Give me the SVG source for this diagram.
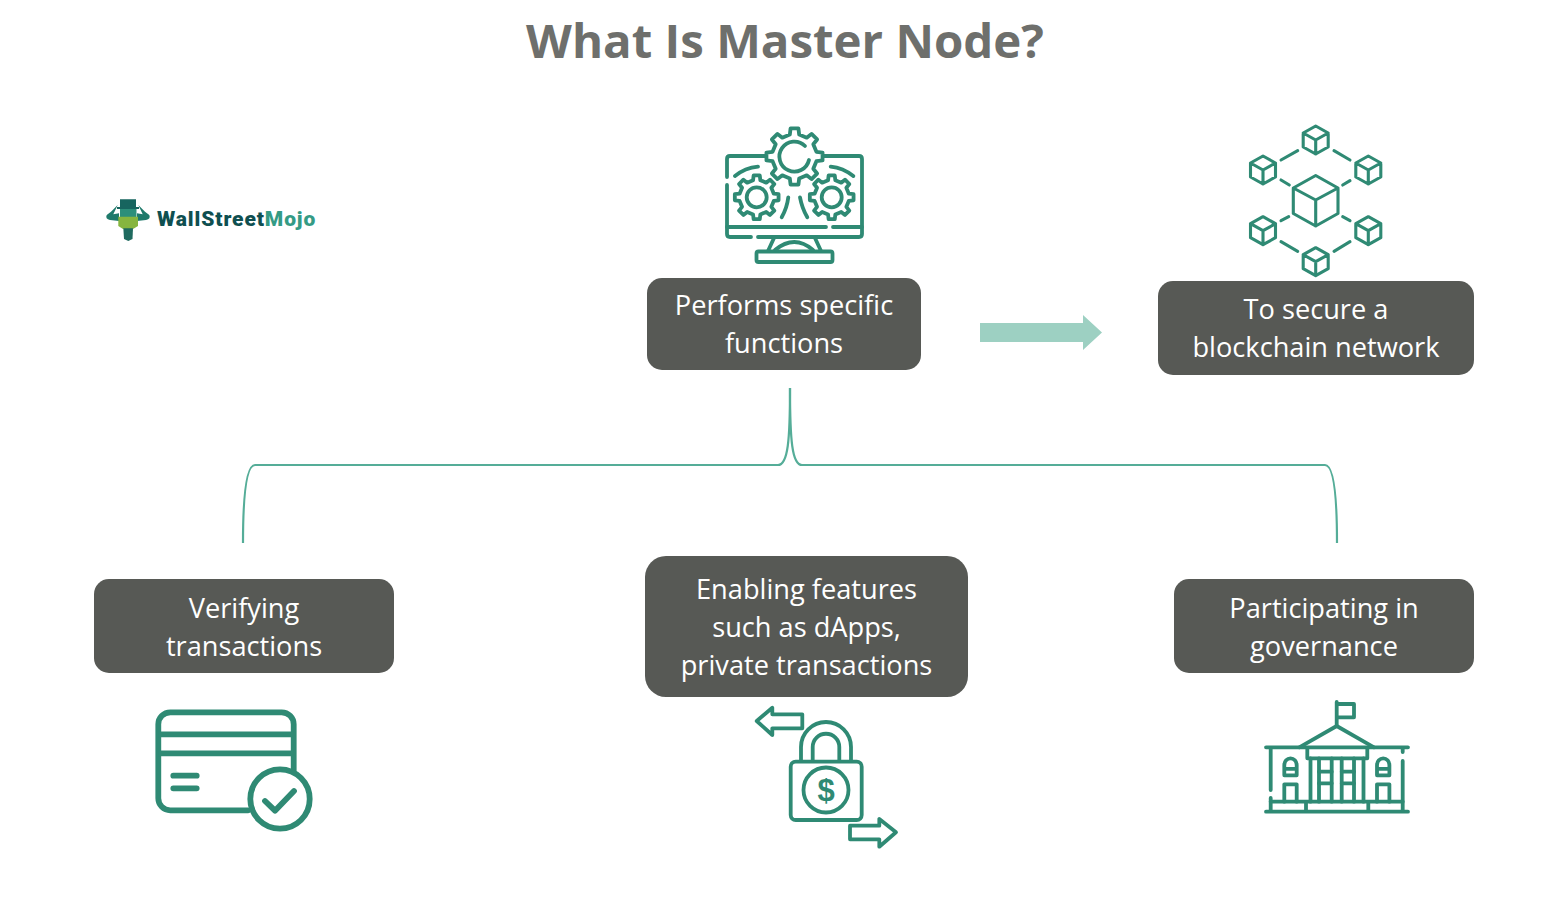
<svg xmlns="http://www.w3.org/2000/svg" width="1568" height="904" viewBox="0 0 1568 904">
<style>
.box{fill:#575955}
.t{font-family:"Open Sans","Noto Sans","Liberation Sans",sans-serif;font-size:27.200px;fill:#fff;text-anchor:middle}
.title{font-family:"Open Sans","Noto Sans","Liberation Sans",sans-serif;font-size:47.400px;font-weight:700;fill:#6e6f6c;text-anchor:middle}
.i{fill:none;stroke:#2f8a74;stroke-width:3.800;stroke-linecap:round;stroke-linejoin:round}
.w{fill:#fff}
.card{stroke-width:5.800}
.conn{fill:none;stroke:#55ad98;stroke-width:2.200}
</style>
<defs>
<path id="gear" vector-effect="non-scaling-stroke" d="M-3.34,-23.77 L3.34,-23.77 L3.95,-18.58 L10.35,-15.93 L14.44,-19.17 L19.17,-14.44 L15.93,-10.35 L18.58,-3.95 L23.77,-3.34 L23.77,3.34 L18.58,3.95 L15.93,10.35 L19.17,14.44 L14.44,19.17 L10.35,15.93 L3.95,18.58 L3.34,23.77 L-3.34,23.77 L-3.95,18.58 L-10.35,15.93 L-14.44,19.17 L-19.17,14.44 L-15.93,10.35 L-18.58,3.95 L-23.77,3.34 L-23.77,-3.34 L-18.58,-3.95 L-15.93,-10.35 L-19.17,-14.44 L-14.44,-19.17 L-10.35,-15.93 L-3.95,-18.58 Z"/>
<path id="cube" d="M0,-14 L12.5,-7 V7 L0,14 L-12.5,7 V-7 Z M-12.5,-7 L0,0 L12.5,-7 M0,0 V14"/>
<g id="window"><path d="M0,17 V7 A6.2,7 0 0 1 12.4,7 V17 Z M0,10.500 H12.4"/><path d="M0,43.400 V26 H12.4 V43.400"/></g>
</defs>
<rect width="1568" height="904" fill="#fff"/>
<text id="title" class="title" x="785" y="58">What Is Master Node?</text>

<g id="logo">
<path d="M120,199.300 H136 V207 H139 V209 H117 V207 H120 Z" fill="#17655f"/>
<path d="M117.700,205 L111,211.700 L106.700,215 Q105,219 110,220 L119,221 V213.300 L113.300,214.300 Z M138.300,205 L145,211.700 L149.300,215 Q151,219 146,220 L137,221 V213.300 L142.700,214.300 Z" fill="#1f7a6b"/>
<path d="M120,209 H136.500 V217 H120 Z" fill="#2c8f7a"/>
<path d="M118.300,216.700 H138 V226 L133,229 H123 L118.300,226 Z" fill="#86b53f"/>
<path d="M123.300,228.300 H133 L132.500,239 L128.300,241 L124,239 Z" fill="#1f6a5f"/>
<text font-family="Roboto,'Liberation Sans',sans-serif" font-size="21" font-weight="900" x="157" y="226" letter-spacing="0.900"><tspan fill="#0f4f50">WallStreet</tspan><tspan fill="#349b85">Mojo</tspan></text>
</g>

<g id="connectors">
<path class="conn" d="M790,388 C790,440 788,465 778,465 H255 C247,465 243,490 243,543"/>
<path class="conn" d="M790,388 C790,440 792,465 802,465 H1325 C1333,465 1337,490 1337,543"/>
<path id="arrow" d="M980,323 H1083 V315 L1102,332.500 L1083,350 V342 H980 Z" fill="#9dd0c2"/>
</g>

<g id="node-functions">
<g id="icon-monitor" class="i">
<path d="M727,177 V159 Q727,156 730,156 H859 Q862,156 862,159 V234 Q862,237 859,237 H758 M751,237 H730 Q727,237 727,234 V185"/>
<path d="M727,227 H826 M833,227 H862"/>
<path d="M768,251 L774,238 M815,238 L821,251"/>
<rect x="756.500" y="251.500" width="76" height="10.500" rx="2"/>
<path d="M775,250 Q794.500,234 813,250"/>
<path d="M735,176 Q745,168 758,166.700 M830.700,166.700 Q843,168 853.300,176"/>
<path d="M781.700,217.300 Q787,208 788.300,197.300 M800,197.300 Q802,208 807.300,217.300"/>
<use href="#gear" class="w" transform="translate(794.500,156.500) scale(1.18)"/>
<path d="M805,146 A15,15 0 1 0 809,160"/>
<use href="#gear" transform="translate(756.700,197.300) scale(.92)"/>
<circle cx="756.700" cy="197.300" r="10"/>
<use href="#gear" transform="translate(831.700,197.300) scale(.92)"/>
<circle cx="831.700" cy="197.300" r="10"/>
</g>
<rect class="box" x="647" y="278" width="274" height="92" rx="15"/>
<text class="t" x="784" y="314.500">Performs specific</text>
<text class="t" x="784" y="352.500">functions</text>
</g>

<g id="node-secure">
<g id="icon-chain" class="i" style="stroke-width:3.100">
<use href="#cube" x="1315.700" y="140"/>
<use href="#cube" x="1263" y="170"/>
<use href="#cube" x="1368.300" y="170"/>
<use href="#cube" x="1263" y="230.700"/>
<use href="#cube" x="1368.300" y="230.700"/>
<use href="#cube" x="1315.700" y="261.700"/>
<path d="M1315.700,175.500 L1338,188 V213.500 L1315.700,226 L1293.300,213.500 V188 Z M1293.300,188 L1315.700,200 L1338,188 M1315.700,200 V226"/>
<path d="M1281,160 L1297.700,150.700 M1334,150.700 L1350,160 M1281,180 L1289.300,185 M1342.700,185 L1350,180.700 M1281,220.700 L1288.700,216.700 M1342.700,216.700 L1350,220.700 M1281,241.700 L1297.700,251.300 M1334,251.300 L1350,241.700"/>
</g>
<rect class="box" x="1158" y="281" width="316" height="94" rx="15"/>
<text class="t" x="1316" y="318.500">To secure a</text>
<text class="t" x="1316" y="356.500">blockchain network</text>
</g>

<g id="node-verify">
<rect class="box" x="94" y="579" width="300" height="94" rx="15"/>
<text class="t" x="244" y="617.500">Verifying</text>
<text class="t" x="244" y="655.500">transactions</text>
<g id="icon-card" class="i card">
<path d="M293.700,771 V724.300 A12,12 0 0 0 281.700,712.300 H170.300 A12,12 0 0 0 158.300,724.300 V798.300 A12,12 0 0 0 170.300,810.300 H248"/>
<path d="M158.300,734.300 H293.700 M158.300,753.300 H293.700" stroke-linecap="butt"/>
<path d="M173.300,775.700 H196.700 M173.300,788.300 H196.700"/>
<circle cx="280" cy="799" r="29.700"/>
<path d="M265,801 L275,810.700 L294,791"/>
</g>
</g>

<g id="node-enable">
<rect class="box" x="645" y="556" width="323" height="141" rx="21"/>
<text class="t" x="806.500" y="598.500">Enabling features</text>
<text class="t" x="806.500" y="636.500">such as dApps,</text>
<text class="t" x="806.500" y="674.500">private transactions</text>
<g id="icon-lock" class="i">
<path d="M801,760 V747 A25,25 0 0 1 851,747 V760"/>
<path d="M812.700,760 V747 A13.300,13.300 0 0 1 839.300,747 V760"/>
<rect x="790.700" y="761.700" width="71" height="58.300" rx="5"/>
<circle cx="826" cy="790" r="22.500"/>
<path d="M756.700,721 L772.300,707.700 V714.300 H802.300 V728.300 H772.300 V735 Z"/>
<path d="M896,832.300 L879.300,819 V825.700 H850 V839.300 H879.300 V846.700 Z"/>
</g>
<text x="826" y="801" font-family="'Liberation Sans',sans-serif" font-size="31" font-weight="700" fill="#2f8a74" text-anchor="middle">$</text>
</g>

<g id="node-gov">
<rect class="box" x="1174" y="579" width="300" height="94" rx="15"/>
<text class="t" x="1324" y="617.500">Participating in</text>
<text class="t" x="1324" y="655.500">governance</text>
<g id="icon-bank" class="i">
<path d="M1336.700,725 V702 M1337,704 H1354 V717.300 H1337"/>
<path d="M1299.300,747.300 L1336.700,726 L1374,747.300"/>
<path d="M1266,747.300 H1408 M1266,811.700 H1408"/>
<path d="M1307.300,748 V758.300 H1367.300 V748"/>
<path d="M1270.700,749 V790 M1270.700,798 V811 M1402.700,761 V811 M1402.700,749 V752"/>
<path d="M1270.700,801.700 H1402.700"/>
<path d="M1310.500,758.300 V801.700 M1319,758.300 V801.700 M1331.700,758.300 V801.700 M1341.700,758.300 V801.700 M1354,758.300 V801.700 M1363.500,758.300 V801.700"/>
<path d="M1319,771.700 H1331.700 M1319,783.300 H1331.700 M1341.700,771.700 H1354 M1341.700,783.300 H1354"/>
<path d="M1306,802 V811 M1368.300,802 V811"/>
<use href="#window" x="1284.300" y="758.300"/>
<use href="#window" x="1377" y="758.300"/>
</g>
</g>
</svg>
